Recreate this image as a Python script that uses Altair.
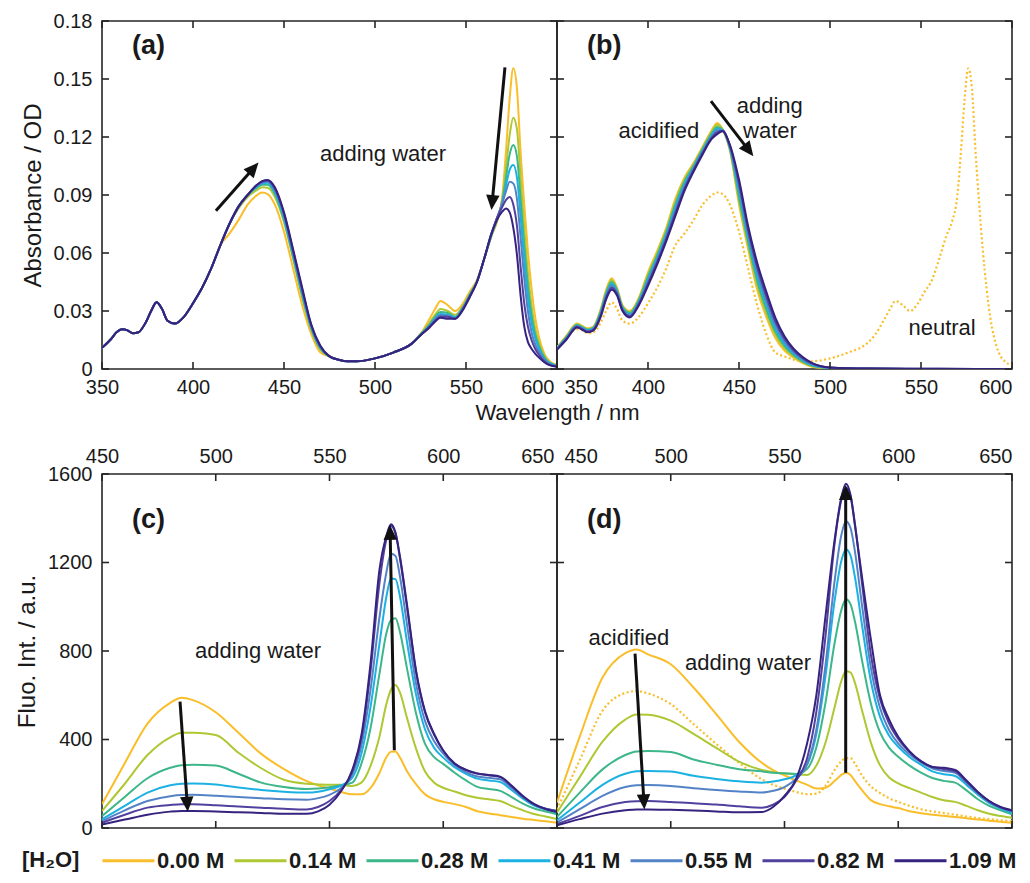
import math
import altair as alt
import pandas as pd

# ------------------------------------------------------------------ labels / colours
CONC = ["0.00 M", "0.14 M", "0.28 M", "0.41 M", "0.55 M", "0.82 M", "1.09 M"]
COLORS = ["#F9BE2A", "#ADC832", "#3DB689", "#1BB1E2", "#5383C6", "#51409E", "#36227F"]

XT_ABS = [350, 400, 450, 500, 550, 600]
YT_ABS = [0, 0.03, 0.06, 0.09, 0.12, 0.15, 0.18]
XT_FL = [450, 500, 550, 600, 650]
YT_FL = [0, 400, 800, 1200, 1600]

# ------------------------------------------------------------------ panel (a): absorbance, adding water
A_WL_1 = [350, 355, 358, 361, 364, 367, 370, 374, 377, 380, 383, 386, 390, 395, 400, 405, 410, 415]
A_VAL_1 = [0.011, 0.0155, 0.019, 0.0205, 0.020, 0.0185, 0.019, 0.024, 0.030, 0.0345, 0.031, 0.025,
           0.0235, 0.027, 0.034, 0.042, 0.052, 0.064]
A_WL_PK = [420, 425, 430, 435, 438, 441, 445, 450, 455, 460, 465, 470]
A_PK = [
    [0.070, 0.077, 0.085, 0.0898, 0.0913, 0.0905, 0.085, 0.071, 0.052, 0.033, 0.018, 0.0085],
    [0.075, 0.083, 0.089, 0.0925, 0.0940, 0.0938, 0.0890, 0.076, 0.057, 0.037, 0.020, 0.0100],
    [0.075, 0.084, 0.090, 0.0937, 0.0953, 0.0953, 0.0905, 0.077, 0.058, 0.038, 0.021, 0.0105],
    [0.075, 0.084, 0.090, 0.0943, 0.0960, 0.0963, 0.0915, 0.078, 0.059, 0.039, 0.0215, 0.0110],
    [0.075, 0.084, 0.090, 0.0948, 0.0965, 0.0970, 0.0925, 0.0795, 0.060, 0.040, 0.022, 0.0113],
    [0.075, 0.084, 0.090, 0.0950, 0.0970, 0.0975, 0.0932, 0.0802, 0.061, 0.041, 0.0225, 0.0116],
    [0.075, 0.084, 0.090, 0.0952, 0.0972, 0.0978, 0.0940, 0.081, 0.062, 0.042, 0.023, 0.0120],
]
A_WL_2 = [475, 480, 485, 490, 500, 510]
A_VAL_2 = [0.0065, 0.0048, 0.004, 0.004, 0.0055, 0.0085]
A_WL_3 = [520, 525, 530, 533, 536, 540, 544, 548, 552, 556]
A_Q = [
    [0.013, 0.018, 0.026, 0.031, 0.0352, 0.033, 0.030, 0.0335, 0.040, 0.046],
    [0.013, 0.018, 0.024, 0.028, 0.031, 0.030, 0.028, 0.032, 0.039, 0.0455],
    [0.013, 0.018, 0.023, 0.027, 0.0295, 0.029, 0.027, 0.0315, 0.038, 0.0455],
    [0.013, 0.0175, 0.0225, 0.026, 0.0285, 0.028, 0.0265, 0.031, 0.038, 0.045],
    [0.013, 0.0175, 0.022, 0.0255, 0.0278, 0.0275, 0.026, 0.031, 0.0375, 0.045],
    [0.013, 0.0175, 0.022, 0.025, 0.027, 0.027, 0.026, 0.0305, 0.0375, 0.045],
    [0.013, 0.0175, 0.0215, 0.0245, 0.0265, 0.026, 0.026, 0.030, 0.037, 0.045],
]
A_WL_4 = [560, 564, 567, 570, 572, 574, 576, 578, 580, 582, 584, 586, 588, 590, 593, 596, 600]
A_R = [
    [0.057, 0.069, 0.076, 0.090, 0.113, 0.140, 0.1555, 0.145, 0.112, 0.085, 0.061, 0.042, 0.027, 0.017, 0.008, 0.004, 0.002],
    [0.057, 0.069, 0.077, 0.088, 0.104, 0.121, 0.130, 0.124, 0.099, 0.073, 0.050, 0.033, 0.021, 0.014, 0.007, 0.0035, 0.002],
    [0.057, 0.069, 0.077, 0.087, 0.099, 0.111, 0.1158, 0.110, 0.088, 0.064, 0.043, 0.028, 0.018, 0.012, 0.006, 0.003, 0.0018],
    [0.057, 0.070, 0.078, 0.086, 0.095, 0.103, 0.1055, 0.099, 0.079, 0.056, 0.037, 0.024, 0.016, 0.011, 0.0055, 0.003, 0.0016],
    [0.057, 0.070, 0.078, 0.086, 0.092, 0.0968, 0.096, 0.088, 0.068, 0.047, 0.030, 0.019, 0.013, 0.009, 0.005, 0.0025, 0.0015],
    [0.057, 0.070, 0.078, 0.084, 0.0875, 0.089, 0.085, 0.074, 0.053, 0.034, 0.022, 0.015, 0.0105, 0.0075, 0.004, 0.002, 0.0013],
    [0.057, 0.070, 0.077, 0.0815, 0.083, 0.081, 0.073, 0.059, 0.038, 0.022, 0.014, 0.0105, 0.008, 0.006, 0.0035, 0.002, 0.0012],
]

# ------------------------------------------------------------------ panel (b): acidified absorbance
B_WL = [350, 355, 361, 367, 370, 374, 377, 380, 383, 386, 390, 395, 400, 405, 410, 415, 420, 425,
        430, 435, 438, 441, 445, 450, 455, 460, 465, 470, 475, 480, 485, 490, 500, 520, 560, 600]
B_S = [
    [0.011, 0.017, 0.0235, 0.021, 0.022, 0.031, 0.041, 0.047, 0.042, 0.033, 0.030, 0.037, 0.050, 0.061,
     0.073, 0.088, 0.099, 0.1065, 0.115, 0.1235, 0.1273, 0.124, 0.113, 0.085, 0.062, 0.041, 0.027, 0.016,
     0.0095, 0.0058, 0.003, 0.0012, 0.0003, 0.0001, 0.0, 0.0],
    [0.011, 0.0167, 0.0232, 0.0207, 0.0217, 0.0303, 0.0402, 0.046, 0.0413, 0.0325, 0.0295, 0.0363, 0.0488,
     0.0598, 0.0718, 0.0865, 0.098, 0.1058, 0.1143, 0.1228, 0.1263, 0.1238, 0.1135, 0.087, 0.064, 0.0433,
     0.0292, 0.0178, 0.0107, 0.0066, 0.0035, 0.0015, 0.0004, 0.0001, 0.0, 0.0],
    [0.0107, 0.0163, 0.0228, 0.0203, 0.0213, 0.0297, 0.0393, 0.045, 0.0407, 0.032, 0.029, 0.0357, 0.0477,
     0.0587, 0.0707, 0.085, 0.0968, 0.105, 0.1137, 0.1218, 0.1252, 0.1237, 0.1140, 0.089, 0.066, 0.0457,
     0.031, 0.0193, 0.012, 0.0073, 0.004, 0.0018, 0.0005, 0.0001, 0.0, 0.0],
    [0.0105, 0.016, 0.0225, 0.020, 0.021, 0.029, 0.0385, 0.044, 0.040, 0.0315, 0.0283, 0.035, 0.0465,
     0.0575, 0.0695, 0.0835, 0.0955, 0.1043, 0.113, 0.121, 0.1243, 0.1235, 0.1145, 0.0915, 0.068, 0.048,
     0.0335, 0.021, 0.013, 0.008, 0.0046, 0.0022, 0.0006, 0.0001, 0.0, 0.0],
    [0.0103, 0.0157, 0.0222, 0.0197, 0.0207, 0.0283, 0.0377, 0.043, 0.0393, 0.031, 0.0278, 0.0343, 0.0453,
     0.0563, 0.0683, 0.082, 0.0943, 0.1035, 0.1123, 0.1202, 0.1233, 0.1234, 0.115, 0.094, 0.070, 0.0505,
     0.0355, 0.0228, 0.0143, 0.0088, 0.0051, 0.0025, 0.0007, 0.0002, 0.0, 0.0],
    [0.0102, 0.0153, 0.0218, 0.0193, 0.0203, 0.0277, 0.0368, 0.042, 0.0387, 0.0305, 0.0272, 0.0337, 0.0442,
     0.0552, 0.0672, 0.0805, 0.093, 0.1028, 0.1117, 0.1195, 0.1224, 0.1232, 0.1155, 0.096, 0.072, 0.0528,
     0.0378, 0.0247, 0.0157, 0.0097, 0.0056, 0.0029, 0.0008, 0.0002, 0.0001, 0.0],
    [0.010, 0.015, 0.0215, 0.019, 0.020, 0.027, 0.036, 0.041, 0.038, 0.030, 0.0267, 0.033, 0.043, 0.054,
     0.066, 0.079, 0.092, 0.102, 0.111, 0.119, 0.1215, 0.123, 0.116, 0.098, 0.074, 0.055, 0.040, 0.0265,
     0.017, 0.0105, 0.0062, 0.0032, 0.0008, 0.0002, 0.0001, 0.0],
]

# ------------------------------------------------------------------ panels (c), (d): fluorescence
F_WL = [450, 460, 470, 480, 485, 490, 500, 510, 520, 530, 540, 545, 550, 555, 560, 564, 568, 572,
        575, 577, 579, 581, 584, 588, 592, 596, 600, 605, 610, 615, 620, 625, 630, 635, 640, 645, 650]
C_S = [
    [108, 293, 472, 566, 589, 578, 523, 430, 335, 266, 212, 193, 178, 163, 152, 152, 180, 250,
     320, 345, 346, 318, 258, 198, 152, 130, 118, 108, 95, 76, 66, 58, 50, 42, 36, 30, 24],
    [77, 200, 330, 410, 431, 430, 420, 340, 270, 218, 200, 197, 195, 195, 190, 205, 280, 415,
     560, 625, 646, 612, 500, 360, 255, 205, 182, 165, 148, 137, 130, 122, 100, 80, 63, 52, 40],
    [54, 140, 225, 272, 284, 286, 282, 245, 205, 185, 176, 178, 184, 193, 205, 290, 450, 700,
     880, 940, 948, 885, 725, 520, 380, 320, 290, 250, 215, 186, 176, 168, 140, 110, 88, 75, 62],
    [39, 100, 160, 193, 200, 201, 197, 183, 172, 164, 160, 164, 175, 192, 228, 335, 545, 835,
     1045, 1128, 1125, 1045, 845, 605, 445, 362, 318, 275, 245, 223, 215, 208, 172, 132, 101, 84, 69],
    [31, 80, 122, 144, 149, 150, 146, 140, 135, 130, 128, 135, 150, 180, 242, 372, 622, 955,
     1155, 1240, 1230, 1135, 925, 655, 483, 392, 336, 285, 253, 233, 227, 220, 182, 139, 106, 87, 77],
    [24, 60, 92, 104, 107, 107, 103, 97, 92, 87, 84, 95, 122, 170, 255, 405, 705, 1110,
     1305, 1365, 1332, 1218, 1003, 708, 522, 421, 349, 291, 262, 245, 238, 230, 189, 143, 107, 87, 77],
    [16, 38, 60, 74, 77, 77, 75, 71, 68, 64, 64, 75, 105, 165, 262, 418, 740, 1170,
     1320, 1373, 1335, 1225, 1014, 715, 528, 425, 350, 292, 263, 247, 240, 232, 192, 145, 108, 86, 72],
]
D_S = [
    [115, 413, 680, 790, 807, 785, 740, 635, 515, 390, 295, 262, 238, 215, 195, 178, 182, 212,
     240, 250, 240, 212, 172, 126, 108, 98, 90, 76, 67, 60, 55, 50, 44, 38, 33, 28, 24],
    [70, 230, 390, 490, 513, 512, 485, 425, 362, 300, 262, 252, 246, 243, 240, 282, 385, 545,
     665, 708, 703, 655, 535, 385, 283, 228, 202, 180, 160, 140, 125, 118, 100, 80, 64, 54, 46],
    [50, 160, 265, 330, 346, 348, 343, 310, 286, 266, 256, 250, 247, 244, 268, 365, 565, 835,
     985, 1034, 1012, 932, 762, 562, 432, 362, 322, 282, 250, 226, 213, 205, 170, 130, 100, 80, 62],
    [35, 115, 195, 245, 256, 258, 255, 236, 222, 211, 205, 210, 220, 238, 288, 425, 685, 1025,
     1208, 1260, 1232, 1132, 922, 662, 502, 417, 367, 320, 286, 256, 243, 235, 195, 150, 112, 88, 69],
    [25, 85, 145, 185, 193, 194, 190, 180, 172, 165, 160, 168, 185, 222, 290, 445, 735, 1115,
     1325, 1387, 1357, 1247, 1012, 722, 542, 442, 382, 332, 296, 269, 258, 250, 205, 158, 118, 92, 77],
    [18, 55, 95, 117, 121, 122, 118, 112, 106, 98, 92, 105, 140, 212, 318, 525, 865, 1285,
     1485, 1538, 1502, 1372, 1112, 782, 582, 472, 402, 343, 301, 276, 266, 256, 210, 160, 120, 93, 77],
    [12, 40, 65, 80, 84, 84, 82, 79, 75, 71, 72, 95, 145, 220, 385, 600, 955, 1300,
     1495, 1556, 1505, 1365, 1140, 850, 600, 490, 412, 346, 302, 276, 272, 262, 215, 163, 122, 95, 80],
]
D_DOT = [84, 307, 530, 610, 619, 608, 560, 470, 380, 295, 220, 195, 178, 163, 153, 155, 190, 262,
         302, 316, 316, 290, 238, 188, 158, 135, 118, 100, 85, 75, 68, 60, 52, 45, 40, 35, 31]

# ------------------------------------------------------------------ annotations (tail x, tail y, head x, head y)
A_ARROWS = [(412.6, 0.0818, 436.0, 0.1068), (571.4, 0.156, 564.0, 0.0822)]
B_ARROWS = [(434.6, 0.1386, 457.9, 0.110)]
C_ARROWS = [(484.3, 571, 487.7, 74), (578.5, 351, 576.6, 1370)]
D_ARROWS = [(484.3, 788, 488.4, 84), (576.9, 250, 576.9, 1550)]

A_TEXT = [(504.4, 0.1113, "adding water")]
B_TEXT = [(406.0, 0.123, "acidified"), (466.9, 0.136, "adding"), (467.0, 0.123, "water"),
          (561.6, 0.021, "neutral")]
C_TEXT = [(518.6, 800, "adding water")]
D_TEXT = [(481.6, 861, "acidified"), (534.0, 748, "adding water")]

# ------------------------------------------------------------------ layout constants
W = 455
H_TOP = 348
H_BOT = 354
DOM_ABS_X = [350, 600]
DOM_ABS_Y = [0, 0.18]
DOM_FL_X = [450, 650]
DOM_FL_Y = [0, 1600]
FONT = "Liberation Sans"
INK = "#1a1a1a"
FRAME = "#262626"
HEAD = "M0,0L0.9,2L-0.9,2Z"
LEG_LINE = "M-1,0H4.2"


def long_df(wl, series):
    rows = []
    for k, vals in enumerate(series):
        for w, v in zip(wl, vals):
            rows.append({"wl": w, "val": v, "conc": CONC[k], "k": k})
    return pd.DataFrame(rows)


a_wl = A_WL_1 + A_WL_PK + A_WL_2 + A_WL_3 + A_WL_4
a_series = [A_VAL_1 + A_PK[k] + A_VAL_2 + A_Q[k] + A_R[k] for k in range(7)]
df_a = long_df(a_wl, a_series)
df_b = long_df(B_WL, B_S)
df_b_dot = pd.DataFrame({"wl": a_wl, "val": a_series[0]})
df_c = long_df(F_WL, C_S)
df_d = long_df(F_WL, D_S)
df_d_dot = pd.DataFrame({"wl": F_WL, "val": D_DOT})

color_enc = alt.Color(
    "conc:N",
    scale=alt.Scale(domain=CONC, range=COLORS),
    sort=CONC,
    legend=alt.Legend(
        orient="none", legendX=-80, legendY=828, direction="horizontal",
        title="[H₂O]", titleOrient="left", titleFontSize=22, titleFontWeight="bold",
        titleFont=FONT, titleColor=INK, titlePadding=21, titleBaseline="middle",
        titleAnchor="middle",
        labelFontSize=22, labelFontWeight="bold", labelFont=FONT, labelColor=INK,
        symbolType=LEG_LINE, symbolSize=400, symbolStrokeWidth=3,
        labelOffset=33, columnPadding=3,
    ),
)


def cond(conds, default):
    return {"condition": [{"test": f"datum.value == {v}", "value": val} for v, val in conds],
            "value": default}


def panel(df, dots, xdom, ydom, h, xaxis, yaxis, xt, yt, arrows, texts, letter):
    xs = alt.Scale(domain=xdom, nice=False, zero=False)
    ys = alt.Scale(domain=ydom, nice=False, zero=False)

    def X(f):
        return alt.X(f, scale=xs, axis=xaxis)

    def Y(f):
        return alt.Y(f, scale=ys, axis=yaxis)

    layers = []
    if dots is not None:
        layers.append(alt.Chart(dots).mark_line(
            interpolate="monotone", strokeWidth=2.2, strokeDash=[2, 2.5], color=COLORS[0], clip=True
        ).encode(x=X("wl:Q"), y=Y("val:Q")))
    layers.append(alt.Chart(df).mark_line(interpolate="monotone", strokeWidth=2, clip=True).encode(
        x=X("wl:Q"), y=Y("val:Q"), color=color_enc, detail="k:O"))

    # inward tick marks on all four sides
    L = 7
    xdf = pd.DataFrame({"wl": xt})
    ydf = pd.DataFrame({"val": yt})
    for y0, y1 in [(h - L, h), (0, L)]:
        layers.append(alt.Chart(xdf).mark_rule(color=FRAME, strokeWidth=1.6).encode(
            x=X("wl:Q"), y=alt.value(y0), y2=alt.value(y1)))
    for x0, x1 in [(0, L), (W - L, W)]:
        layers.append(alt.Chart(ydf).mark_rule(color=FRAME, strokeWidth=1.6).encode(
            y=Y("val:Q"), x=alt.value(x0), x2=alt.value(x1)))

    # arrows
    px_x = W / (xdom[1] - xdom[0])
    px_y = h / (ydom[1] - ydom[0])
    rows = []
    for (x1, y1, x2, y2) in arrows:
        dxp = (x2 - x1) * px_x
        dyp = -(y2 - y1) * px_y
        ln = math.hypot(dxp, dyp)
        back = 11
        rows.append({
            "wl": x1, "val": y1, "hx": x2, "hy": y2,
            "xe": x2 - dxp / ln * back / px_x,
            "ye": y2 + dyp / ln * back / px_y,
            "ang": math.degrees(math.atan2(dxp, -dyp)) % 360,
        })
    adf = pd.DataFrame(rows)
    layers.append(alt.Chart(adf).mark_rule(color="#111111", strokeWidth=3).encode(
        x=X("wl:Q"), y=Y("val:Q"), x2="xe:Q", y2="ye:Q"))
    layers.append(alt.Chart(adf).mark_point(
        shape=HEAD, filled=True, size=225, color="#111111", opacity=1, strokeWidth=0
    ).encode(x=X("hx:Q"), y=Y("hy:Q"), angle=alt.Angle("ang:Q", scale=None)))

    # texts
    tdf = pd.DataFrame(texts, columns=["wl", "val", "txt"])
    layers.append(alt.Chart(tdf).mark_text(
        font=FONT, fontSize=22, color=INK, align="center", baseline="middle"
    ).encode(x=X("wl:Q"), y=Y("val:Q"), text="txt:N"))
    ldf = pd.DataFrame([letter], columns=["wl", "val", "txt"])
    layers.append(alt.Chart(ldf).mark_text(
        font=FONT, fontSize=27, fontWeight="bold", color=INK, align="left", baseline="middle"
    ).encode(x=X("wl:Q"), y=Y("val:Q"), text="txt:N"))

    return alt.layer(*layers).properties(width=W, height=h)


common_x = dict(ticks=False, domain=False, grid=False, labelFlush=False, labelPadding=8,
                labelFontSize=20)
ax_a_x = alt.Axis(values=XT_ABS, labelAlign=cond([(600, "right")], "center"),
                  labelOffset=cond([(600, -3)], 0),
                  title="Wavelength / nm", titleFontSize=22, titleFontWeight="normal",
                  titlePadding=5, titleX=W, titleAlign="center", **common_x)
ax_b_x = alt.Axis(values=XT_ABS, labelAlign=cond([(350, "left"), (600, "right")], "center"),
                  labelOffset=cond([(350, 7)], 0), title=None, **common_x)
ax_c_x = alt.Axis(values=XT_FL, orient="top", labelAlign=cond([(650, "right")], "center"),
                  labelOffset=cond([(650, -3)], 0), title=None, **common_x)
ax_d_x = alt.Axis(values=XT_FL, orient="top",
                  labelAlign=cond([(450, "left"), (650, "right")], "center"),
                  labelOffset=cond([(450, 7)], 0), title=None, **common_x)

ax_a_y = alt.Axis(values=YT_ABS, ticks=False, domain=False, grid=False, labelPadding=10,
                  labelFontSize=20, labelExpr="datum.value == 0 ? '0' : format(datum.value, '.2f')",
                  title="Absorbance / OD", titleFontSize=24, titleFontWeight="normal", titlePadding=8)
ax_c_y = alt.Axis(values=YT_FL, ticks=False, domain=False, grid=False, labelPadding=10,
                  labelFontSize=20, format="d",
                  title="Fluo. Int. / a.u.", titleFontSize=24, titleFontWeight="normal", titlePadding=8)

pa = panel(df_a, None, DOM_ABS_X, DOM_ABS_Y, H_TOP, ax_a_x, ax_a_y, XT_ABS, YT_ABS,
           A_ARROWS, A_TEXT, (366.5, 0.167, "(a)"))
pb = panel(df_b, df_b_dot, DOM_ABS_X, DOM_ABS_Y, H_TOP, ax_b_x, None, XT_ABS, YT_ABS,
           B_ARROWS, B_TEXT, (366.5, 0.167, "(b)"))
pc = panel(df_c, None, DOM_FL_X, DOM_FL_Y, H_BOT, ax_c_x, ax_c_y, XT_FL, YT_FL,
           C_ARROWS, C_TEXT, (463.2, 1392, "(c)"))
pd_ = panel(df_d, df_d_dot, DOM_FL_X, DOM_FL_Y, H_BOT, ax_d_x, None, XT_FL, YT_FL,
            D_ARROWS, D_TEXT, (463.2, 1392, "(d)"))

chart = alt.concat(
    pa, pb, pc, pd_, columns=2, spacing={"row": 105, "column": 0}, bounds="flush"
).resolve_scale(
    x="independent", y="independent", color="shared"
).properties(
    padding={"left": 6, "top": 2, "right": 0, "bottom": 0}, background="white"
).configure_view(
    stroke=FRAME, strokeWidth=1.6
).configure_axis(
    labelFont=FONT, titleFont=FONT, labelColor=INK, titleColor=INK
)

chart.save("out.html", embed_options={"renderer": "svg", "actions": False})
